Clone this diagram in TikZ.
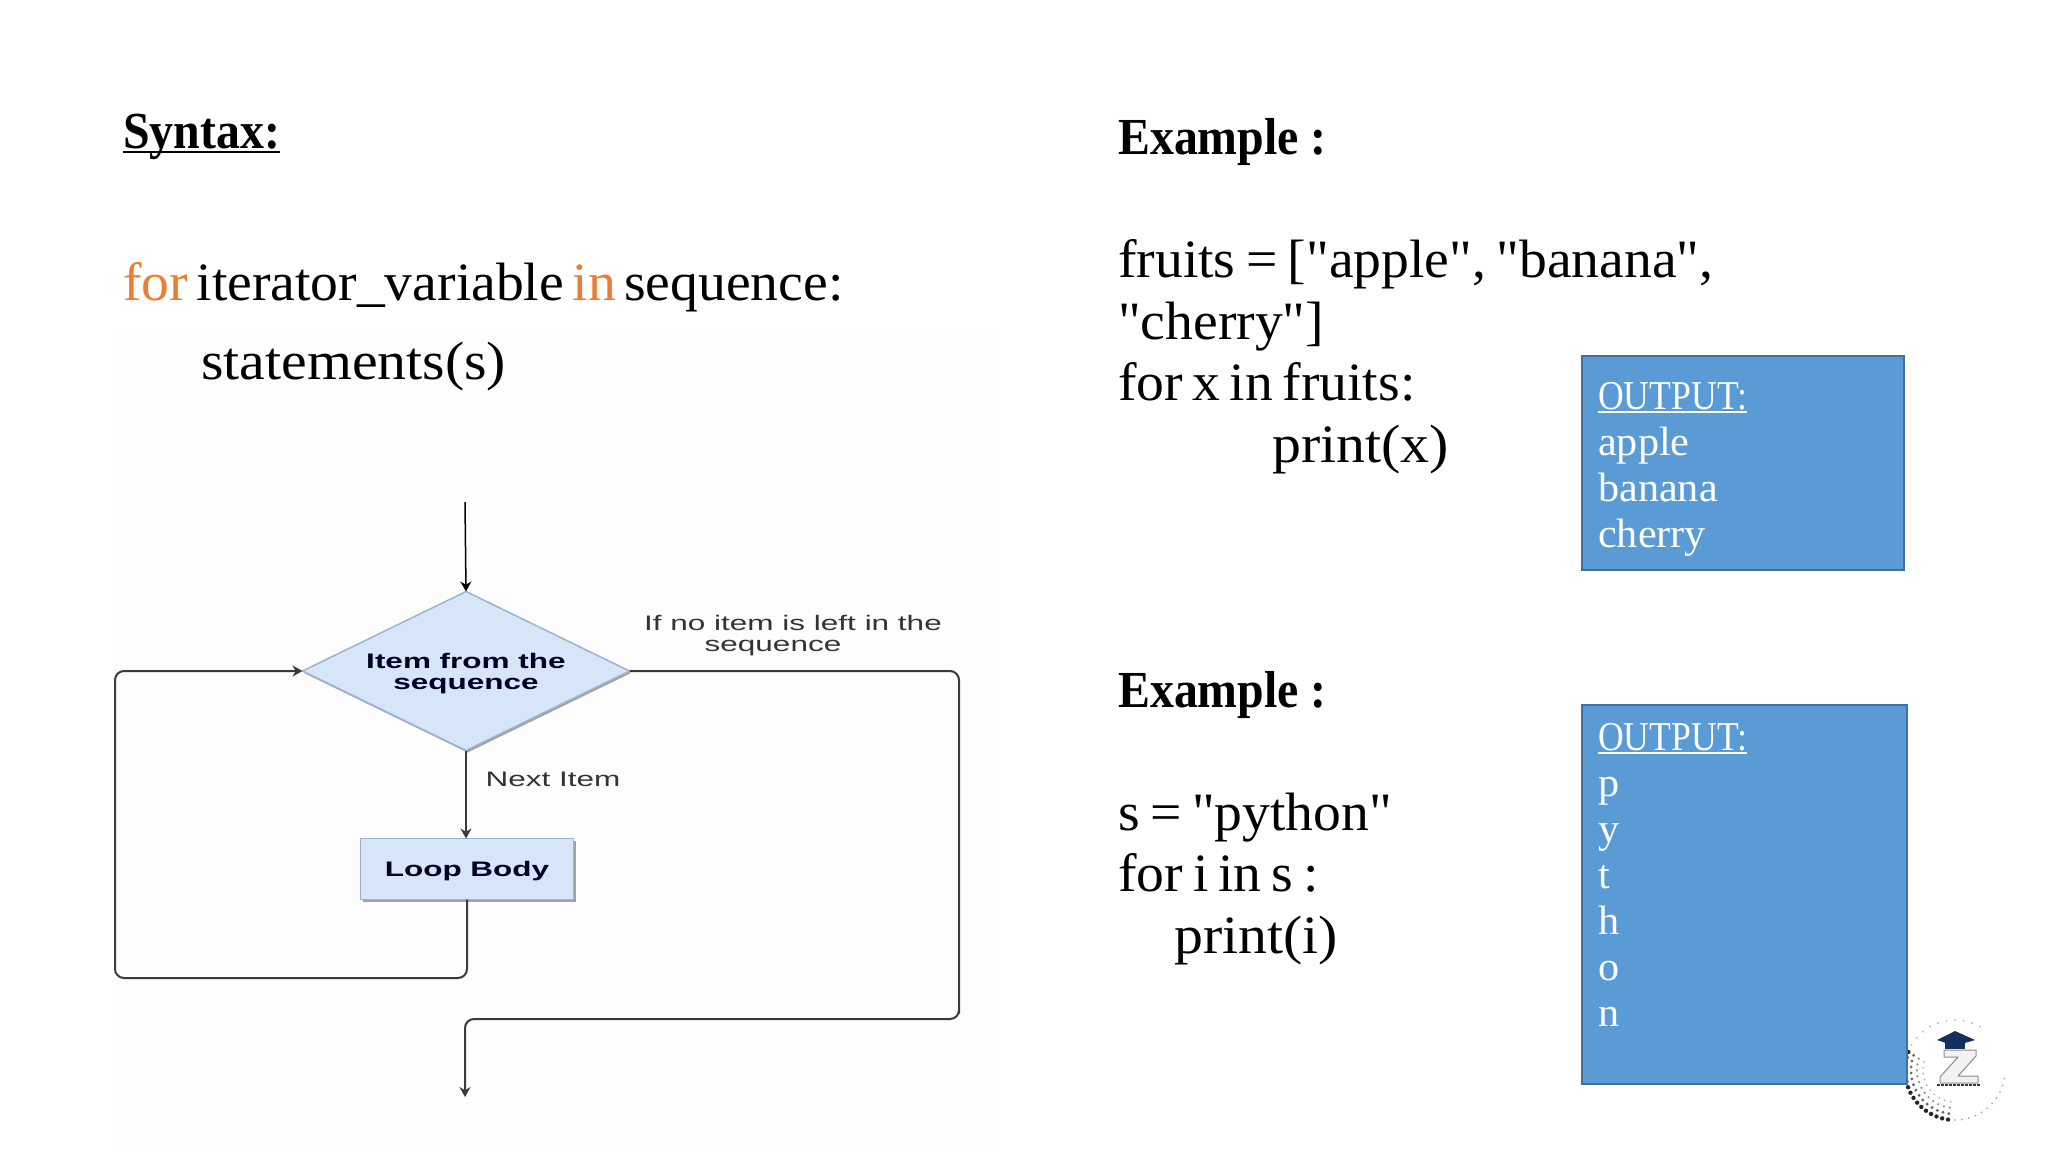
\documentclass[tikz,border=0pt]{standalone}
\usepackage{fontspec}
\setmainfont[Ligatures=TeXOff,FakeStretch=1.03]{Liberation Serif}
\newfontfamily\widefont[Ligatures=TeXOff,FakeStretch=1.07]{Liberation Serif}
\newfontfamily\titlefont[Ligatures=TeXOff,FakeStretch=0.92]{Liberation Serif}
\newfontfamily\outfont[Ligatures=TeXOff,FakeStretch=0.87]{Liberation Serif}
\newfontfamily\chartfont[FakeStretch=1.5]{Liberation Sans}
\usetikzlibrary{shapes.geometric,arrows.meta,shadows}
\newlength{\linedwd}
\newcommand{\lined}[1]{\settowidth{\linedwd}{#1}\makebox[0pt][l]{\rule[-.1em]{\linedwd}{.05em}}#1}
\definecolor{pagetint}{HTML}{FEFDFE}
\definecolor{boxblue}{HTML}{5B9BD5}
\definecolor{boxedge}{HTML}{41719C}
\definecolor{chartblue}{HTML}{D6E5F8}
\definecolor{chartedge}{HTML}{9DB4CF}
\definecolor{wordorange}{HTML}{ED7D31}
\definecolor{lineink}{HTML}{3A3A3A}
\definecolor{capnavy}{HTML}{14305C}
\tikzset{
  heading/.style={anchor=base west,inner sep=0,font=\titlefont\fontsize{52}{60}\selectfont\bfseries},
  codeline/.style={anchor=base west,inner sep=0,font=\fontsize{54}{61}\selectfont},
  outbox/.style={draw=boxedge,line width=1.5pt,fill=boxblue,anchor=north west,inner sep=0},
  outtext/.style={anchor=base west,inner sep=0,align=left,text=white,font=\fontsize{41}{46}\selectfont},
  flowdecision/.style={diamond,aspect=2.05,draw=chartedge,line width=1.5pt,fill=chartblue,inner sep=0,outer sep=0,
    minimum width=327pt,minimum height=159pt,align=center,font=\chartfont\fontsize{21}{21}\selectfont\bfseries,
    text=black!85!blue,drop shadow={shadow xshift=1.5pt,shadow yshift=-2pt,fill=black!45,opacity=.8}},
  flowbody/.style={rectangle,draw=chartedge,line width=1.5pt,fill=chartblue,inner sep=0,outer sep=0,
    minimum width=213pt,minimum height=61pt,font=\chartfont\fontsize{21}{21}\selectfont\bfseries,
    text=black!85!blue,drop shadow={shadow xshift=2pt,shadow yshift=-2pt,fill=black!45,opacity=.8}},
  flowlabel/.style={inner sep=0,align=center,text=black!80,font=\chartfont\fontsize{21}{21}\selectfont},
  flowline/.style={draw=lineink,line width=2pt,rounded corners=9pt},
  flowarrow/.style={flowline,-{Stealth[length=10pt,width=11pt]}}
}
\begin{document}
\begin{tikzpicture}[x=1pt,y=-1pt]
  \useasboundingbox[fill=white] (0,0) rectangle (2048,1152);
  \fill[pagetint] (112,330) rectangle (1000,1152);
  % Left-hand side text
  \node[heading] (syntax) at (123,148) {\lined{Syntax:}};
  \node[codeline] (forline) at (123,300) {\spaceskip=8.5pt\textcolor{wordorange}{for} iterator\_variable \textcolor{wordorange}{in} sequence:};
  \node[codeline] (stateline) at (201,379) {\widefont statements(s)};
  % Flow chart
  \coordinate (entry) at (465,502);
  \coordinate (leaving) at (465,1097);
  \node[flowdecision] (item) at (466,671) {\rule{0pt}{20pt}Item from the\\sequence};
  \node[flowbody] (body) at (467,869) {\raisebox{-7pt}[0pt][0pt]{Loop Body}};
  \node[flowlabel] (noitem) at (793,636) {If no item is left in the\\sequence\rule{40pt}{0pt}};
  \node[flowlabel] (nextitem) at (553,779) {Next Item};
  \coordinate (loopleft) at (115,978);
  \coordinate (loopright) at (959,1019);
  \draw[flowarrow,draw=black,line width=1.5pt] (entry) -- (item.north);
  \draw[flowarrow] (item.south) -- (item.south |- body.north);
  \draw[flowarrow] (body.south) |- (loopleft) |- (item.west);
  \draw[flowarrow] (item.east) -| (loopright) |- (leaving |- loopright) -- (leaving);
  % Examples
  \node[heading] (exampleA) at (1118,154) {Example :};
  \node[codeline] (fruitsA) at (1118,277) {\spaceskip=10.5pt fruits = ["apple", "banana",};
  \node[codeline] (fruitsB) at (1118,339) {"cherry"]};
  \node[codeline] (forfruit) at (1118,400) {\spaceskip=9.5pt for x in fruits:};
  \node[codeline] (printx) at (1272,462) {\widefont print(x)};
  \node[heading] (exampleB) at (1118,707) {Example :};
  \node[codeline] (word) at (1118,830) {\spaceskip=10.5pt s = "python"};
  \node[codeline] (forword) at (1118,891) {\spaceskip=10pt for i in s :};
  \node[codeline] (printi) at (1174,953) {\widefont print(i)};
  % Badge
  \foreach \r/\dotsize/\shade in {50/2.2/85,44/1.6/60,38/1.2/45,32/1/30}{
    \pgfmathsetmacro{\stepa}{98+6/(\r*0.01745)}
    \foreach \a in {98,\stepa,...,205}{
      \fill[black!\shade] ({1955+\r*cos(\a)},{1070+\r*sin(\a)}) circle (\dotsize pt);
    }
  }
  \foreach \a in {10,18,...,95}{
    \fill[black!35] ({1955+50*cos(\a)},{1070+50*sin(\a)}) circle (1pt);
  }
  \foreach \a in {210,220,...,300}{
    \fill[black!30] ({1955+50*cos(\a)},{1070+50*sin(\a)}) circle (1pt);
  }
  \fill[black!5,draw=black!45,line width=1pt,line join=round] (1944,1050) -- (1976,1050) -- (1976,1056) -- (1958,1076) -- (1978,1076) -- (1978,1083) -- (1940,1083) -- (1940,1077) -- (1958,1057) -- (1944,1057) -- cycle;
  \fill[capnavy] (1937,1040) -- (1955,1031) -- (1975,1040) -- (1955,1046) -- cycle;
  \fill[capnavy] (1945,1043) -- (1965,1043) -- (1965,1049) -- (1945,1049) -- cycle;
  \draw[black!80,line width=2pt,dash pattern=on 3pt off 1pt] (1937,1085) -- (1980,1085);
  % Output boxes
  \node[outbox,minimum width=322pt,minimum height=214pt] (outA) at (1581,355) {};
  \node[outtext] (outAtext) at (1598,547) {{\outfont\lined{OUTPUT:}}\\apple\\banana\\cherry};
  \node[outbox,minimum width=325pt,minimum height=379pt] (outB) at (1581,704) {};
  \node[outtext] (outBtext) at (1598,1026) {{\outfont\lined{OUTPUT:}}\\p\\y\\t\\h\\o\\n};
\end{tikzpicture}
\end{document}
